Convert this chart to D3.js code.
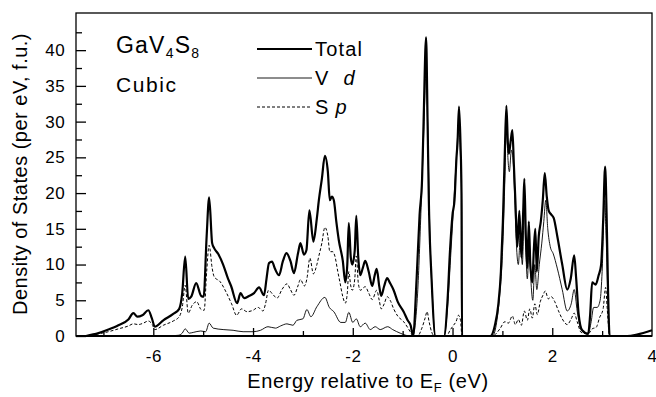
<!DOCTYPE html>
<html>
<head>
<meta charset="utf-8">
<script src="https://cdn.jsdelivr.net/npm/d3@7"></script>
<style>
  html, body { margin: 0; padding: 0; background: #fff; }
  svg { display: block; font-family: "Liberation Sans", Arial, sans-serif; }
</style>
</head>
<body>
<div id="chart"></div>
<script>
// ticks
const xTicks = [-6, -4, -2, 0, 2, 4];
const xMinor = [-7, -5, -3, -1, 1, 3];
const yTicks = [0, 5, 10, 15, 20, 25, 30, 35, 40];
const yMinor = [2.5, 7.5, 12.5, 17.5, 22.5, 27.5, 32.5, 37.5, 42.5];

// Total DOS, [energy (eV), states]
const totalDos = [
    [-7.35, 0], [-7.1, 0.4], [-6.9, 0.9], [-6.7, 1.5], [-6.5, 2.3], [-6.4, 3.2], [-6.32, 2.7],
    [-6.22, 2.9], [-6.1, 3.6], [-6.03, 2.5], [-5.97, 1.3], [-5.8, 2.2], [-5.6, 3.1], [-5.48, 3.8],
    [-5.42, 6], [-5.36, 11.1], [-5.3, 5.2], [-5.24, 5.5], [-5.14, 7.4], [-5.04, 5.6], [-4.99, 5.5],
    [-4.93, 14], [-4.88, 19.4], [-4.82, 13], [-4.78, 12.3], [-4.7, 11.5], [-4.6, 10], [-4.5, 8],
    [-4.44, 7], [-4.32, 4.6], [-4.25, 6], [-4.18, 5.3], [-4.08, 5.6], [-3.98, 6.0], [-3.88, 6.8],
    [-3.78, 5.7], [-3.73, 8], [-3.68, 10.2], [-3.62, 10.4], [-3.56, 9.4], [-3.48, 8.5], [-3.4, 10.5],
    [-3.33, 11.6], [-3.25, 10.5], [-3.18, 8.8], [-3.1, 11.5], [-3.05, 13], [-2.98, 11.4], [-2.93, 12],
    [-2.87, 17.6], [-2.79, 13.2], [-2.72, 16.5], [-2.68, 19], [-2.62, 22], [-2.56, 25.2], [-2.5, 23],
    [-2.46, 19], [-2.42, 19.5], [-2.38, 19], [-2.33, 16], [-2.28, 13.4], [-2.2, 10.5], [-2.15, 7.5],
    [-2.11, 10], [-2.08, 15.8], [-2.04, 11], [-2.01, 10], [-1.96, 12], [-1.93, 16.8], [-1.89, 11],
    [-1.85, 8.5], [-1.8, 9.5], [-1.75, 10.5], [-1.68, 9], [-1.61, 7], [-1.56, 8.5], [-1.52, 9.4],
    [-1.47, 7], [-1.43, 5.6], [-1.37, 7], [-1.31, 8.1], [-1.26, 7.5], [-1.18, 6.4], [-1.1, 4.8],
    [-0.98, 3.4], [-0.9, 2.2], [-0.84, 1.5], [-0.79, 0],
    [-0.72, 8], [-0.66, 17], [-0.61, 22], [-0.58, 30], [-0.53, 41.8], [-0.5, 30], [-0.475, 19],
    [-0.42, 8], [-0.34, 0],
    [-0.17, 0], [-0.1, 5], [-0.05, 12], [0.0, 17], [0.04, 19], [0.08, 25], [0.1, 27], [0.13, 32.1],
    [0.16, 27], [0.18, 20], [0.19, 0],
    [0.76, 0], [0.85, 1.5], [0.92, 4.5], [0.97, 9], [1.01, 16], [1.05, 26], [1.08, 32.2], [1.11, 27],
    [1.13, 25.5], [1.17, 27.5], [1.2, 28.8], [1.23, 24], [1.26, 19], [1.3, 12.5], [1.34, 17.5],
    [1.38, 11], [1.42, 18], [1.44, 22], [1.47, 14], [1.5, 9.5], [1.53, 16], [1.56, 10], [1.6, 7.5],
    [1.63, 12], [1.66, 15], [1.69, 9], [1.73, 14], [1.77, 16], [1.81, 19], [1.85, 22.8], [1.89, 19.5],
    [1.93, 17.5], [1.98, 17], [2.03, 16.5], [2.1, 14], [2.2, 10], [2.3, 6.5], [2.37, 8], [2.44, 11.3],
    [2.48, 8], [2.53, 3], [2.6, 0.8], [2.72, 0.3], [2.76, 3], [2.8, 7.5], [2.87, 7.2], [2.93, 8.5],
    [2.98, 10], [3.02, 16], [3.06, 23.7], [3.09, 17], [3.12, 6], [3.15, 0],
    [3.5, 0], [3.7, 0.2], [4.0, 0.8]
];

// V d projected DOS
const vdDos = [
    [-5.75, 0], [-5.5, 0.1], [-5.42, 0.4], [-5.36, 1.0], [-5.28, 0.4], [-5.2, 0.5], [-5.05, 0.7],
    [-4.95, 0.6], [-4.88, 1.8], [-4.8, 1.1], [-4.6, 0.9], [-4.4, 0.8], [-4.2, 0.6], [-4.0, 0.6],
    [-3.85, 0.8], [-3.7, 1.3], [-3.55, 1.1], [-3.45, 1.4], [-3.32, 1.7], [-3.2, 1.5], [-3.12, 2.2],
    [-3.0, 2.4], [-2.92, 3.7], [-2.84, 2.7], [-2.72, 4.1], [-2.56, 5.4], [-2.47, 4.0], [-2.38, 3.4],
    [-2.24, 1.9], [-2.15, 1.9], [-2.08, 3.3], [-2.0, 1.9], [-1.93, 2.4], [-1.85, 1.3], [-1.75, 1.8],
    [-1.65, 0.9], [-1.55, 1.3], [-1.45, 0.9], [-1.3, 1.3], [-1.2, 0.9], [-1.05, 0.4], [-0.85, 0],
    [-0.8, 0], [-0.7, 6], [-0.63, 18], [-0.58, 28], [-0.53, 37], [-0.5, 30], [-0.46, 16], [-0.4, 5],
    [-0.35, 0],
    [-0.17, 0], [-0.1, 4], [-0.03, 12], [0.02, 18], [0.07, 24], [0.12, 29], [0.16, 25], [0.185, 18],
    [0.19, 0],
    [0.8, 0], [0.95, 6], [1.01, 13], [1.05, 22], [1.08, 30], [1.11, 25], [1.14, 23], [1.18, 26],
    [1.21, 25], [1.25, 19], [1.28, 13], [1.32, 10], [1.36, 14], [1.4, 10], [1.44, 18], [1.47, 12],
    [1.5, 8], [1.54, 13], [1.57, 8], [1.61, 5], [1.65, 10], [1.69, 6.5], [1.74, 10], [1.79, 13],
    [1.83, 16], [1.87, 19], [1.91, 15], [1.96, 12.5], [2.02, 11.5], [2.1, 9.5], [2.2, 6.5], [2.3, 3.5],
    [2.38, 4.5], [2.44, 6.5], [2.5, 3.5], [2.58, 0.8], [2.72, 0.3], [2.78, 2], [2.83, 4], [2.9, 4],
    [2.96, 5], [3.0, 9], [3.05, 19], [3.08, 14], [3.12, 4], [3.15, 0]
];

// S p projected DOS
const spDos = [
    [-7.35, 0], [-7.1, 0.3], [-6.9, 0.6], [-6.7, 1.0], [-6.5, 1.4], [-6.4, 1.7], [-6.3, 1.6],
    [-6.2, 1.8], [-6.1, 2.1], [-6.02, 1.6], [-5.97, 0.9], [-5.8, 1.5], [-5.6, 2.1], [-5.48, 2.7],
    [-5.42, 4], [-5.36, 7.1], [-5.3, 3.2], [-5.22, 4.3], [-5.13, 4.8], [-5.04, 3.7], [-4.98, 3.6],
    [-4.93, 9], [-4.88, 12.7], [-4.82, 9.5], [-4.78, 8.3], [-4.66, 7.6], [-4.53, 6.0], [-4.43, 4.5],
    [-4.33, 2.9], [-4.23, 3.8], [-4.12, 3.4], [-4.0, 3.6], [-3.9, 4.0], [-3.8, 3.5], [-3.75, 4.5],
    [-3.69, 6.4], [-3.6, 5.8], [-3.52, 5.3], [-3.42, 6.5], [-3.32, 7.3], [-3.25, 6.5], [-3.18, 5.7],
    [-3.1, 7], [-3.05, 7.9], [-2.97, 7], [-2.92, 8], [-2.86, 10.9], [-2.79, 8.7], [-2.72, 10],
    [-2.68, 11.2], [-2.62, 13], [-2.56, 15.2], [-2.5, 14], [-2.46, 11.8], [-2.4, 11.8], [-2.36, 11.2],
    [-2.3, 9], [-2.26, 7.6], [-2.2, 5.5], [-2.15, 4.6], [-2.11, 6], [-2.08, 9], [-2.04, 7], [-2.01, 6.4],
    [-1.96, 8], [-1.93, 11.2], [-1.89, 7.5], [-1.85, 6.4], [-1.75, 6.9], [-1.68, 6], [-1.61, 5.1],
    [-1.52, 6.4], [-1.47, 5], [-1.43, 3.8], [-1.37, 4.5], [-1.31, 5.5], [-1.25, 5], [-1.18, 3.8],
    [-1.1, 2.8], [-0.98, 2], [-0.9, 1.2], [-0.84, 0.5], [-0.79, 0],
    [-0.7, 0], [-0.62, 1], [-0.55, 2.5], [-0.51, 3.4], [-0.47, 2], [-0.42, 0.6], [-0.36, 0],
    [-0.12, 0], [-0.05, 0.8], [0.02, 1.5], [0.07, 2], [0.12, 2.9], [0.16, 2.2], [0.19, 0],
    [0.8, 0], [0.95, 1], [1.05, 2], [1.12, 1.8], [1.2, 2.8], [1.26, 1.6], [1.32, 2.3], [1.38, 1.5],
    [1.44, 3.5], [1.5, 2.2], [1.55, 3.8], [1.6, 2.5], [1.65, 4.5], [1.7, 3], [1.76, 4.8], [1.82, 5.8],
    [1.86, 6.3], [1.92, 5.2], [1.98, 5.5], [2.05, 4.8], [2.12, 3.6], [2.2, 2.4], [2.3, 1.6], [2.38, 2.4],
    [2.44, 3.2], [2.5, 2], [2.58, 0.5], [2.72, 0.3], [2.8, 1], [2.88, 1.2], [2.95, 2.6], [3.02, 3.8],
    [3.07, 6.8], [3.1, 4], [3.14, 0]
];

const W = 656, H = 397;
const plot = { left: 76, right: 652, top: 13, bottom: 336 };

const svg = d3.select('#chart')
    .append('svg')
    .attr('width', W)
    .attr('height', H);

const x = d3.scaleLinear().domain([-7.55, 4]).range([plot.left, plot.right]);
const y = d3.scaleLinear().domain([0, 45.2]).range([plot.bottom, plot.top]);

// axes, ticks pointing inward
const fmt = d => String(d);

svg.append('g')
    .attr('transform', `translate(0,${plot.bottom})`)
    .call(d3.axisBottom(x).tickValues(xMinor).tickSize(-5).tickSizeOuter(0).tickFormat(''));
svg.append('g')
    .attr('class', 'xaxis')
    .attr('transform', `translate(0,${plot.bottom})`)
    .call(d3.axisBottom(x).tickValues(xTicks).tickSize(-8).tickSizeOuter(0).tickPadding(14).tickFormat(fmt));

svg.append('g')
    .attr('transform', `translate(${plot.left},0)`)
    .call(d3.axisLeft(y).tickValues(yMinor).tickSize(-6).tickSizeOuter(0).tickFormat(''));
svg.append('g')
    .attr('class', 'yaxis')
    .attr('transform', `translate(${plot.left},0)`)
    .call(d3.axisLeft(y).tickValues(yTicks).tickSize(-10).tickSizeOuter(0).tickPadding(11).tickFormat(fmt));

svg.selectAll('.domain').remove();
svg.selectAll('.tick line').attr('stroke', '#000').attr('stroke-width', 1.3);
svg.selectAll('.xaxis text, .yaxis text')
    .attr('font-family', '"Liberation Sans", Arial, sans-serif')
    .attr('font-size', 17)
    .attr('letter-spacing', 0.4)
    .attr('fill', '#000');

// the 4 tick sits on the right border
svg.selectAll('.xaxis .tick')
    .filter(d => d === 4)
    .select('line').remove();

// frame
svg.append('rect')
    .attr('x', plot.left)
    .attr('y', plot.top)
    .attr('width', plot.right - plot.left)
    .attr('height', plot.bottom - plot.top)
    .attr('fill', 'none')
    .attr('stroke', '#000')
    .attr('stroke-width', 1.3);
svg.append('line')
    .attr('x1', plot.left).attr('x2', plot.right)
    .attr('y1', plot.bottom).attr('y2', plot.bottom)
    .attr('stroke', '#000')
    .attr('stroke-width', 2.2);

// curves
const line = d3.line()
    .curve(d3.curveMonotoneX)
    .x(d => x(d[0]))
    .y(d => y(d[1]));

svg.append('path')
    .datum(spDos)
    .attr('d', line)
    .attr('fill', 'none')
    .attr('stroke', '#000')
    .attr('stroke-width', 1)
    .attr('stroke-dasharray', '3,2');

svg.append('path')
    .datum(vdDos)
    .attr('d', line)
    .attr('fill', 'none')
    .attr('stroke', '#000')
    .attr('stroke-width', 0.9);

svg.append('path')
    .datum(totalDos)
    .attr('d', line)
    .attr('fill', 'none')
    .attr('stroke', '#000')
    .attr('stroke-width', 2.2);

// labels
svg.append('text')
    .attr('transform', 'translate(27,174) rotate(-90)')
    .attr('text-anchor', 'middle')
    .attr('font-size', 20)
    .attr('letter-spacing', 0.5)
    .text('Density of States (per eV, f.u.)');

const xTitle = svg.append('text')
    .attr('x', 368)
    .attr('y', 388)
    .attr('text-anchor', 'middle')
    .attr('font-size', 20)
    .attr('letter-spacing', 0.6);
xTitle.append('tspan').text('Energy relative to E');
xTitle.append('tspan').attr('font-size', 13).attr('dy', 4).text('F');
xTitle.append('tspan').attr('dy', -4).text(' (eV)');

const compound = svg.append('text')
    .attr('x', 116)
    .attr('y', 53)
    .attr('font-size', 23)
    .attr('letter-spacing', 1.2);
compound.append('tspan').text('GaV');
compound.append('tspan').attr('font-size', 14).attr('dy', 5).text('4');
compound.append('tspan').attr('dy', -5).text('S');
compound.append('tspan').attr('font-size', 14).attr('dy', 5).text('8');

svg.append('text')
    .attr('x', 116)
    .attr('y', 92)
    .attr('font-size', 21)
    .attr('letter-spacing', 1.6)
    .text('Cubic');

// legend
const legendRows = [
    { y: 49, width: 2.2, dash: null },
    { y: 78, width: 0.9, dash: null },
    { y: 107, width: 1, dash: '3,2' }
];
legendRows.forEach(r => {
    svg.append('line')
        .attr('x1', 257).attr('x2', 312)
        .attr('y1', r.y).attr('y2', r.y)
        .attr('stroke', '#000')
        .attr('stroke-width', r.width)
        .attr('stroke-dasharray', r.dash);
});

const legendText = svg.append('g')
    .attr('font-size', 20)
    .attr('letter-spacing', 1.2);
legendText.append('text').attr('x', 315).attr('y', 56).text('Total');
const vd = legendText.append('text').attr('x', 315).attr('y', 85);
vd.append('tspan').text('V');
vd.append('tspan').attr('dx', 14).attr('font-style', 'italic').text('d');
const sp = legendText.append('text').attr('x', 315).attr('y', 114);
sp.append('tspan').text('S');
sp.append('tspan').attr('dx', 6).attr('font-style', 'italic').text('p');
</script>
</body>
</html>
